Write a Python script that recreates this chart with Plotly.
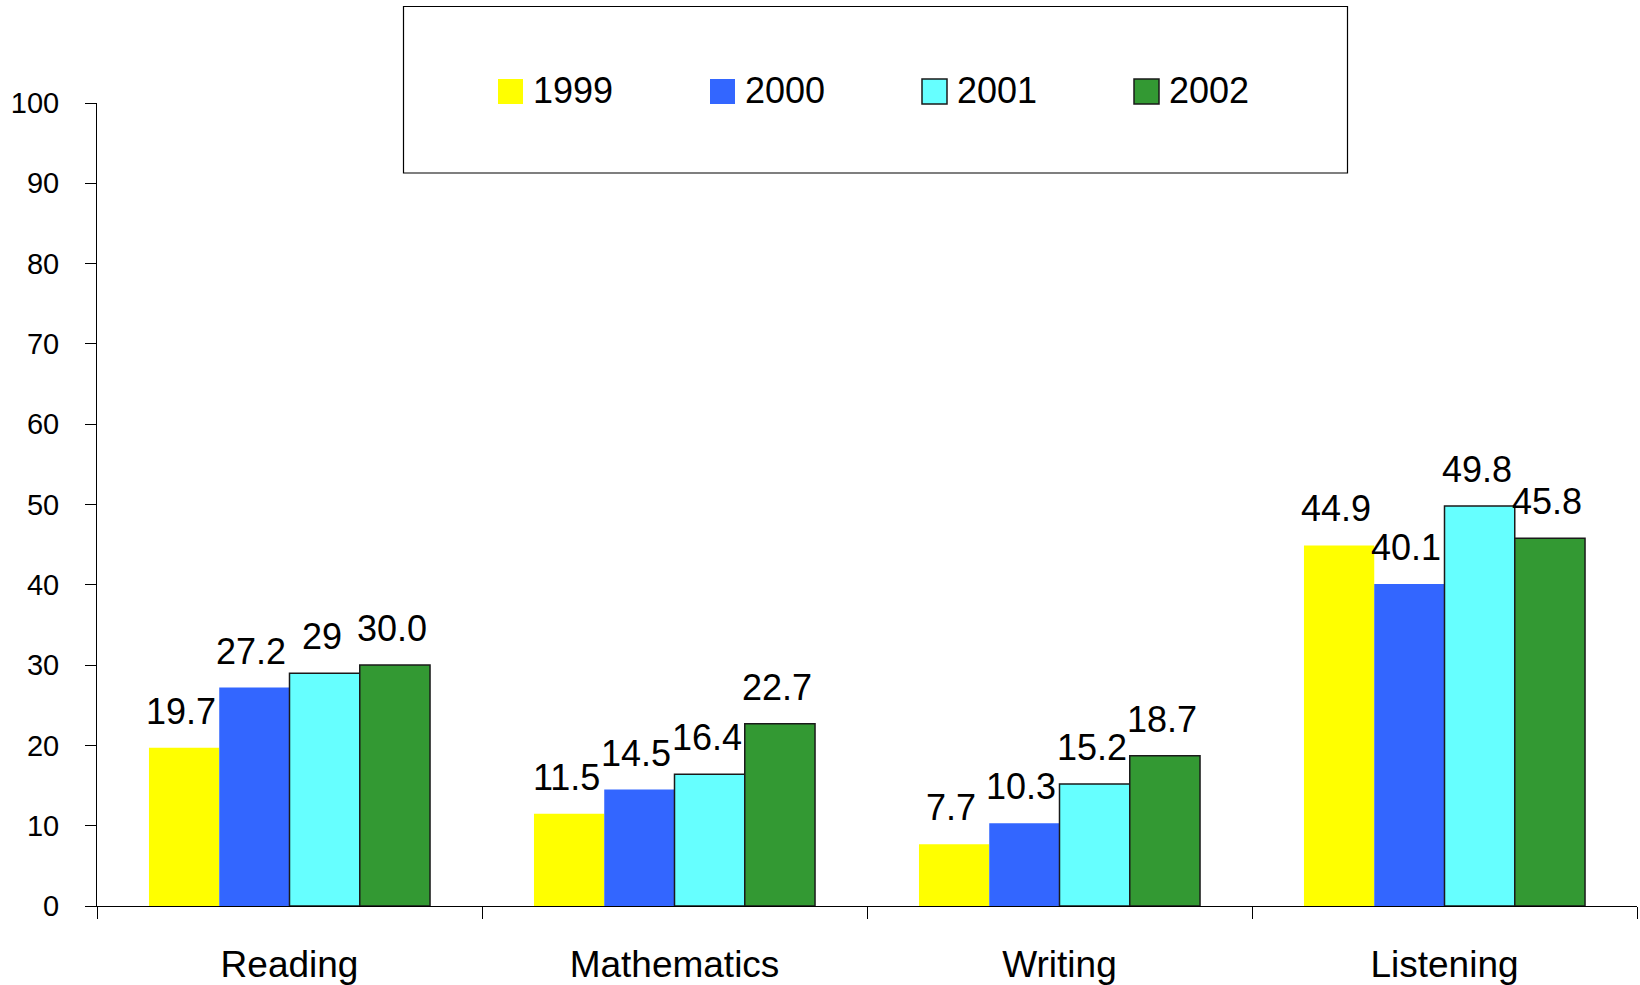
import plotly.graph_objects as go

# Percentage of students by subject area, 1999-2002
categories = ["Reading", "Mathematics", "Writing", "Listening"]
years = ["1999", "2000", "2001", "2002"]
labels_1999 = ["19.7", "11.5", "7.7", "44.9"]
labels_2000 = ["27.2", "14.5", "10.3", "40.1"]
labels_2001 = ["29", "16.4", "15.2", "49.8"]
labels_2002 = ["30.0", "22.7", "18.7", "45.8"]
y_ticks = list(range(0, 101, 10))

series_labels = [labels_1999, labels_2000, labels_2001, labels_2002]
fills = ["#FFFF00", "#3366FF", "#66FFFF", "#339933"]
outlines = [0, 0, 1.5, 1.5]

W, H = 1640, 985
ML, MR, MT, MB = 97, 3, 103, 79
BARGAP = 0.27
FONT = "Arial, Liberation Sans, sans-serif"

plot_w = W - ML - MR
bar_w = plot_w / len(categories) * (1 - BARGAP) / len(years)


def px_x(p):
    return (p - ML) / plot_w


def px_y(p):
    return (H - MB - p) / (H - MT - MB)


fig = go.Figure()
annotations = []
for i, (name, labs, col, lw) in enumerate(zip(years, series_labels, fills, outlines)):
    vals = [float(s) for s in labs]
    fig.add_trace(go.Bar(
        name=name,
        x=categories,
        y=vals,
        marker=dict(color=col, line=dict(color="#1a1a1a", width=lw)),
        showlegend=False,
    ))
    # value label above each bar, centred on its slot within the group
    for cat, v, s in zip(categories, vals, labs):
        annotations.append(dict(
            x=cat, y=v, xref="x", yref="y", text=s, showarrow=False,
            xanchor="center", yanchor="bottom",
            xshift=(i - (len(years) - 1) / 2) * bar_w - 3, yshift=14,
            font=dict(size=36, color="black", family=FONT),
        ))

# Legend drawn as a framed box with square swatches
shapes = [dict(type="rect", xref="paper", yref="paper",
               x0=px_x(403.5), x1=px_x(1347.5), y0=px_y(173), y1=px_y(6.5),
               line=dict(color="black", width=1.2), fillcolor="white", layer="below")]
for i, (name, col, lw) in enumerate(zip(years, fills, outlines)):
    sx = 498 + 212 * i
    shapes.append(dict(type="rect", xref="paper", yref="paper",
                       x0=px_x(sx), x1=px_x(sx + 25), y0=px_y(104), y1=px_y(79),
                       fillcolor=col, line=dict(color="#1a1a1a", width=lw)))
    annotations.append(dict(xref="paper", yref="paper", x=px_x(sx + 33), y=px_y(91),
                            text=name, showarrow=False, xanchor="left", yanchor="middle",
                            font=dict(size=36, color="black", family=FONT)))

fig.update_layout(
    width=W, height=H,
    margin=dict(l=ML, r=MR, t=MT, b=MB, pad=0, autoexpand=False),
    paper_bgcolor="white", plot_bgcolor="white",
    barmode="group", bargap=BARGAP, bargroupgap=0,
    font=dict(family=FONT, color="black"),
    shapes=shapes, annotations=annotations,
    xaxis=dict(
        type="category", categoryorder="array", categoryarray=categories,
        showline=True, linecolor="black", linewidth=1, automargin=False,
        ticks="outside", tickson="boundaries", ticklen=12, tickcolor="black", tickwidth=1,
        tickfont=dict(size=37, family=FONT, color="black"),
        ticklabelstandoff=26, showgrid=False, zeroline=False,
    ),
    yaxis=dict(
        range=[0, 100], tickvals=y_ticks, automargin=False,
        showline=True, linecolor="black", linewidth=1,
        ticks="outside", ticklen=11, tickcolor="black", tickwidth=1,
        tickfont=dict(size=29, family=FONT, color="black"),
        ticklabelstandoff=20, showgrid=False, zeroline=False,
    ),
    # companion axes add the inner half of each crossing tick mark
    xaxis2=dict(
        overlaying="x", anchor="y", side="bottom", range=[-0.5, len(categories) - 0.5],
        tickvals=[i - 0.5 for i in range(len(categories) + 1)], automargin=False,
        ticks="inside", ticklen=12, tickcolor="black", tickwidth=1,
        showticklabels=False, showline=False, showgrid=False, zeroline=False,
    ),
    yaxis2=dict(
        overlaying="y", anchor="x", side="left", range=[0, 100], tickvals=y_ticks,
        ticks="inside", ticklen=10, tickcolor="black", tickwidth=1, automargin=False,
        showticklabels=False, showline=False, showgrid=False, zeroline=False,
    ),
)

fig.write_html("out.html")
